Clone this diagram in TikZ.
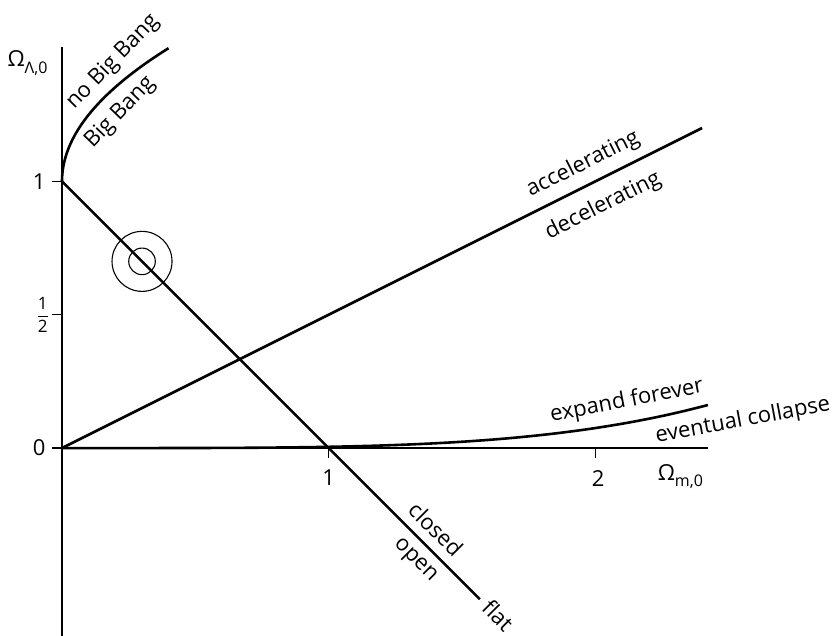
\documentclass[tikz,border=0pt]{standalone}
\usepackage{amsmath}
\usepackage{fontspec}
\setmainfont{Open Sans}
\begin{document}
\begin{tikzpicture}[x=266.7pt,y=266.7pt,
  curve/.style={line width=2.6pt},
  axisline/.style={line width=1.3pt},
  ring/.style={circle, draw, line width=1.1pt, inner sep=0pt},
  lbl/.style={font=\fontsize{22}{22}\selectfont, inner sep=0pt},
  ticklbl/.style={font=\fontsize{22}{22}\selectfont, inner sep=0pt},
  axlbl/.style={font=\fontsize{22}{22}\selectfont, inner sep=0pt, anchor=base west}]
\useasboundingbox (-0.2325,-0.701) rectangle (2.902,1.68);
% axes
\coordinate (O) at (0,0);
\coordinate (ytop) at (0,1.505);
\coordinate (ybot) at (0,-0.71);
\coordinate (xend) at (2.422,0);
\draw[axisline] (ybot) -- (ytop);
\draw[axisline] (O) -- (xend);
% y ticks
\coordinate (y1) at (0,1);
\coordinate (yh) at (0,0.5);
\coordinate (y1t) at (-0.0375,1);
\coordinate (yht) at (-0.0375,0.5);
\coordinate (y0t) at (-0.0375,0);
\draw[axisline] (y1) -- (y1t);
\draw[axisline] (yh) -- (yht);
\draw[axisline] (O) -- (y0t);
% x ticks
\coordinate (x1) at (1,0);
\coordinate (x2) at (2,0);
\coordinate (x1t) at (1,-0.0375);
\coordinate (x2t) at (2,-0.0375);
\draw[axisline] (x1) -- (x1t);
\draw[axisline] (x2) -- (x2t);
% tick labels
\node[ticklbl] (l1) at (-0.086,1) {1};
\node[ticklbl] (lh) at (-0.072,0.5) {\fontsize{17}{17}\selectfont$\genfrac{}{}{0.9pt}{0}{\mbox{1}}{\mbox{2}}$};
\node[ticklbl] (l0) at (-0.086,0) {0};
\node[ticklbl] (lx1) at (1.0,-0.112) {1};
\node[ticklbl] (lx2) at (2.01,-0.114) {2};
% axis labels
\node[axlbl] (omm) at (2.233,-0.12) {Ω\raisebox{-0.3em}{\fontsize{16}{16}\selectfont m,0}};
\node[axlbl] (oml) at (-0.205,1.43) {Ω\raisebox{-0.3em}{\fontsize{16}{16}\selectfont Λ,0}};
% flat line
\coordinate (flatend) at (1.567,-0.567);
\draw[curve] (y1) -- (flatend);
% accelerating line
\coordinate (accend) at (2.4,1.2);
\draw[curve] (O) -- (accend);
% Big Bang boundary
\draw[curve] plot[domain=0:0.632, samples=60, smooth] ({\x*\x},{1+0.79*\x});
% expand forever boundary
\draw[curve] plot[domain=0:2.422, samples=80, smooth] (\x,{0.0047*\x*\x*\x*\x});
% circles
\node[ring, minimum size=26.6pt] (cin) at (0.3,0.7) {};
\node[ring, minimum size=60pt] (cout) at (0.3,0.7) {};
% region labels
\node[lbl, rotate=46] (nbb) at (0.191,1.447) {no Big Bang};
\node[lbl, rotate=46] (bb) at (0.218,1.258) {Big Bang};
\node[lbl, rotate=26.57] (acc) at (1.954,1.064) {accelerating};
\node[lbl, rotate=26.57] (dec) at (2.029,0.908) {decelerating};
\node[lbl, rotate=11] (exf) at (2.118,0.175) {expand forever};
\node[lbl, rotate=10.5] (evc) at (2.553,0.102) {eventual collapse};
\node[lbl, rotate=-45] (clo) at (1.402,-0.304) {closed};
\node[lbl, rotate=-45] (opn) at (1.322,-0.423) {open};
\node[lbl, rotate=-45] (flt) at (1.635,-0.628) {flat};
\end{tikzpicture}
\end{document}
